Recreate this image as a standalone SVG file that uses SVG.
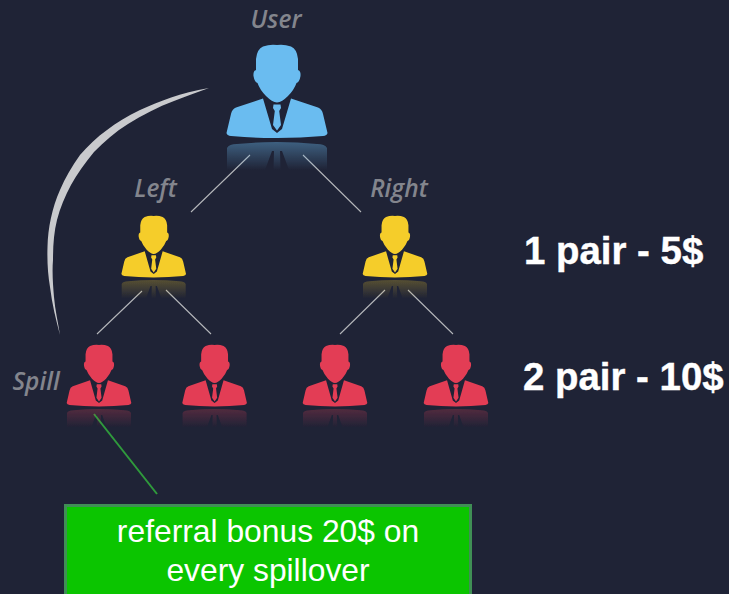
<svg xmlns="http://www.w3.org/2000/svg" width="729" height="594" viewBox="0 0 729 594">
<style>
.lbl{font-family:"Open Sans",sans-serif;font-style:italic;font-weight:600;font-size:24.500px;fill:#83858d;text-anchor:middle}
.big{font-family:"Liberation Sans",Arial,sans-serif;font-weight:bold;font-size:38.400px;fill:#fff;stroke:#fff;stroke-width:.4}
.box{font-family:"Liberation Sans",Arial,sans-serif;font-size:31.800px;fill:#fff;text-anchor:middle}
.cn{stroke:#b4b6ba;stroke-width:1.1;fill:none}
</style>
<defs>
<filter id="soft" x="-10%" y="-10%" width="120%" height="120%"><feGaussianBlur stdDeviation=".45"/></filter>
<linearGradient id="rb" x1="0" y1="0" x2="0" y2="1"><stop offset="0" stop-color="#6bbcf0" stop-opacity=".4"/><stop offset="1" stop-color="#6bbcf0" stop-opacity="0"/></linearGradient>
<linearGradient id="ry" x1="0" y1="0" x2="0" y2="1"><stop offset="0" stop-color="#f5cd2c" stop-opacity=".26"/><stop offset="1" stop-color="#f5cd2c" stop-opacity="0"/></linearGradient>
<linearGradient id="rr" x1="0" y1="0" x2="0" y2="1"><stop offset="0" stop-color="#e33d55" stop-opacity=".26"/><stop offset="1" stop-color="#e33d55" stop-opacity="0"/></linearGradient>
<g id="man" filter="url(#soft)">
<path d="M-14 1.500Q-7 -1 0 0Q7 -1 14 1.500Q20 4 21 14L21 25Q24 26 23.500 31Q22.500 37 19.500 38Q17 45 11 51Q5 57 0 57.500Q-5 57 -11 51Q-17 45 -19.500 38Q-22.500 37 -23.500 31Q-24 26 -21 25L-21 14Q-20 4 -14 1.500Z"/>
<path d="M-14 53.500L-5 84L0 88L5 84L14 53.500L41 62.500Q45 64 46 69L50.500 88Q50 90.500 46 91Q24 93 0 93Q-24 93 -46 91Q-50 90.500 -50.500 88L-46 69Q-45 64 -41 62.500Z"/>
<path d="M-3.500 59.500H3.500L4 63L2.200 66L4 80L0 85.500L-4 80L-2.200 66L-4 63Z"/>
</g>
<path id="refl" filter="url(#soft)" d="M-50 103Q-48 99 -40 99Q0 95 40 99Q48 99 50 103L50 125L12 125L5 106L3 106L3.500 125L-3.500 125L-3 106L-5 106L-12 125L-50 125Z"/>
</defs>
<rect width="729" height="594" fill="#1f2336"/>
<g id="connectors">
<path class="cn" d="M250 155L191 212M303 155L361 212M142 291L97 334M166 290L211 334M385 290L340 334M408 290L453 334"/>
<path d="M209 88C180 93 160 101 140 110C127 116 116 123 107 130C97 137 88 146 80 155C72 166 65 178 60 190C52 208 48 228 47.500 247C47 262 48 275 50 287C52 304 56 320 60 335C58 322 55 310 54 297C53 285 52 272 53 260C53 245 54 232 57 220C60 208 65 196 71 185C77 174 85 163 94 152C104 142 115 132 128 124C142 115 158 107 174 101C185 97 197 92 209 88Z" fill="#c9cacd"/>
<path d="M94 414L157 494" stroke="#2f9a3c" stroke-width="2" fill="none"/>
</g>
<g id="user">
<text class="lbl" x="276" y="28">User</text>
<use href="#man" transform="translate(277 45)" fill="#6bbcf0"/>
<use href="#refl" transform="translate(277 45)" fill="url(#rb)"/>
</g>
<g id="left">
<text class="lbl" x="155.500" y="197">Left</text>
<use href="#man" transform="translate(153.700 216) scale(.64 .66)" fill="#f5cd2c"/>
<use href="#refl" transform="translate(153.700 216) scale(.64 .66)" fill="url(#ry)"/>
</g>
<g id="right">
<text class="lbl" x="399" y="197">Right</text>
<use href="#man" transform="translate(395 216) scale(.64 .66)" fill="#f5cd2c"/>
<use href="#refl" transform="translate(395 216) scale(.64 .66)" fill="url(#ry)"/>
</g>
<g id="spill">
<text class="lbl" x="36" y="390">Spill</text>
<use href="#man" transform="translate(99 345) scale(.64 .66)" fill="#e33d55"/>
<use href="#refl" transform="translate(99 345) scale(.64 .66)" fill="url(#rr)"/>
</g>
<g id="red2">
<use href="#man" transform="translate(214.600 345) scale(.64 .66)" fill="#e33d55"/>
<use href="#refl" transform="translate(214.600 345) scale(.64 .66)" fill="url(#rr)"/>
</g>
<g id="red3">
<use href="#man" transform="translate(335 345) scale(.64 .66)" fill="#e33d55"/>
<use href="#refl" transform="translate(335 345) scale(.64 .66)" fill="url(#rr)"/>
</g>
<g id="red4">
<use href="#man" transform="translate(456 345) scale(.64 .66)" fill="#e33d55"/>
<use href="#refl" transform="translate(456 345) scale(.64 .66)" fill="url(#rr)"/>
</g>
<text class="big" x="524" y="264">1 pair - 5$</text>
<text class="big" x="523" y="390">2 pair - 10$</text>
<g id="bonus">
<rect x="65.500" y="505.500" width="405" height="95" fill="#0bc500" stroke="#3f8f55" stroke-width="3"/>
<text class="box" x="268" y="542">referral bonus 20$ on</text>
<text class="box" x="268" y="581">every spillover</text>
</g>
</svg>
